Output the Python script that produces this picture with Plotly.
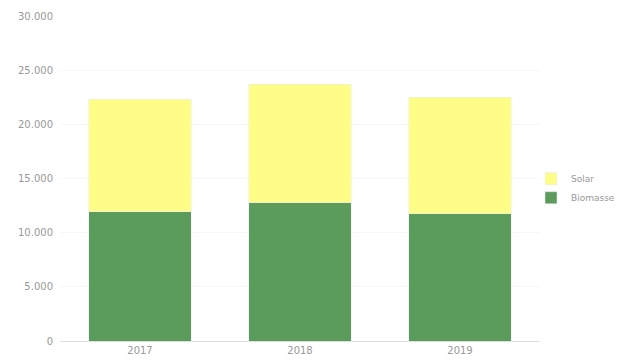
import plotly.graph_objects as go

years = ["2017", "2018", "2019"]
biomasse = [11950, 12780, 11760]
solar = [10350, 10920, 10740]

fig = go.Figure()
fig.add_trace(go.Bar(x=years, y=biomasse, name="Biomasse", marker_color="#5b9b5c"))
fig.add_trace(go.Bar(x=years, y=solar, name="Solar", marker_color="#fdfd88"))

# the page body adds an 8px margin, so the figure is sized to fit the window
FW, FH = 614, 353
L = 52
W = FW - L
fig.update_layout(
    width=FW, height=FH,
    barmode="stack",
    bargap=0.36,
    separators=",.",
    paper_bgcolor="white", plot_bgcolor="white",
    margin=dict(l=L, r=0, t=8, b=20),
    font=dict(family="DejaVu Sans", size=10, color="#999999"),
    legend=dict(x=(523 - L) / W, y=0.47, yanchor="middle", xanchor="left",
                font=dict(size=9, color="#999999"), itemwidth=30,
                bgcolor="rgba(0,0,0,0)", tracegroupgap=0),
    xaxis=dict(domain=[0, (532 - L) / W], showline=True, linecolor="#dddddd",
               linewidth=1, ticks="", tickfont=dict(size=10, color="#999999")),
    yaxis=dict(range=[0, 30000], tickvals=[0, 5000, 10000, 15000, 20000, 25000, 30000],
               tickformat=",.0f", showgrid=True, gridcolor="#f7f7f7",
               ticklabelstandoff=6,
               zeroline=False, ticks="", tickfont=dict(size=10, color="#999999")),
)

fig.write_html("out.html")
